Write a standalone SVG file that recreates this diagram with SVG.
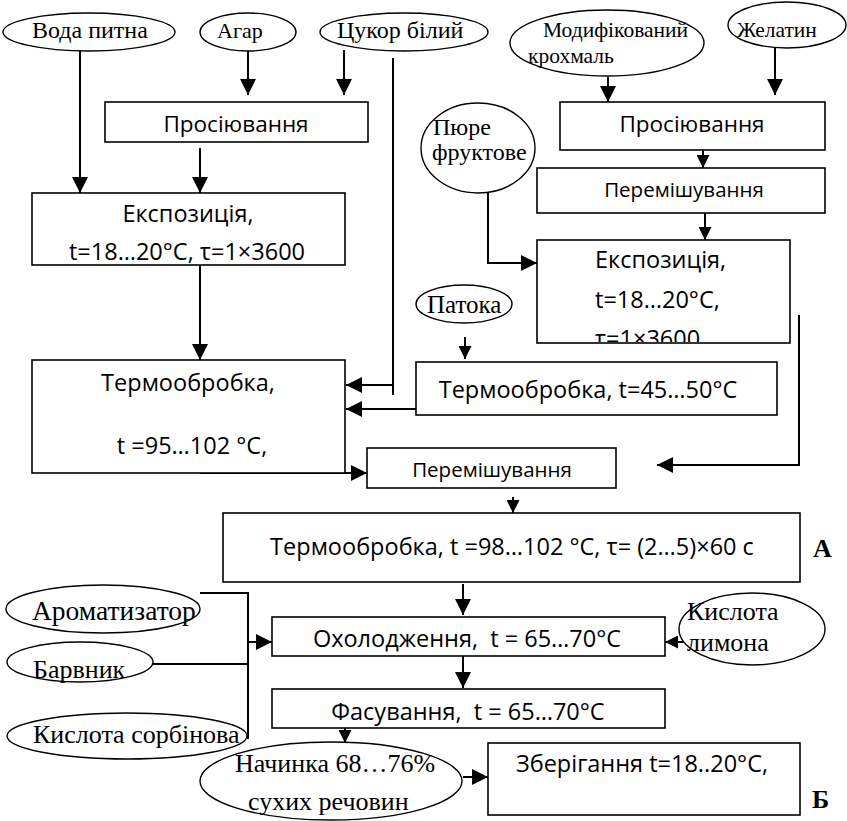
<svg xmlns="http://www.w3.org/2000/svg" width="847" height="821" viewBox="0 0 847 821">
<style>
.box{fill:#fff;stroke:#000;stroke-width:1.6}
.ell{fill:#fff;stroke:#000;stroke-width:1.4}
.s{font-family:"Open Sans","Liberation Sans",sans-serif;font-size:23.5px;fill:#000;white-space:pre}
.p{font-size:20.5px}
.m{text-anchor:middle}
.r{font-family:"Liberation Serif","Times New Roman",serif;font-size:26px;fill:#000}
.b{font-family:"Liberation Serif","Times New Roman",serif;font-size:26px;font-weight:bold;fill:#000}
#connectors path{fill:none;stroke:#000;stroke-width:2}
.big{marker-end:url(#ab)}
.sm{marker-end:url(#as)}
</style>
<defs>
<marker id="ab" viewBox="0 0 10 10" refX="10" refY="5" markerUnits="userSpaceOnUse" markerWidth="17" markerHeight="16" orient="auto"><path d="M0,0 L10,5 L0,10 z" fill="#000"/></marker>
<marker id="as" viewBox="0 0 10 10" refX="10" refY="5" markerUnits="userSpaceOnUse" markerWidth="13" markerHeight="13" orient="auto"><path d="M0,0 L10,5 L0,10 z" fill="#000"/></marker>
<clipPath id="clipExpR"><rect x="537" y="240" width="253" height="102"/></clipPath>
</defs>
<rect width="847" height="821" fill="#fff"/>

<g id="connectors">
<path class="big" d="M80,50 V193"/>
<path class="big" d="M248,50 V95"/>
<path class="big" d="M344,50 V95"/>
<path class="big" d="M200,148 V193"/>
<path class="big" d="M200,265 V360"/>
<path d="M393,58 V395"/>
<path class="big" d="M393,385 H346"/>
<path class="big" d="M416,409 H346"/>
<path class="sm" d="M465,337 V359"/>
<path class="big" d="M608,77 V102"/>
<path class="big" d="M775,48 V95"/>
<path class="sm" d="M703,148 V168"/>
<path class="sm" d="M705,213 V240"/>
<path class="big" d="M488,193 V263 H537"/>
<path class="big" d="M799,315 V465 H657"/>
<path class="big" d="M200,473 H367"/>
<path class="sm" d="M513,497 V513"/>
<path class="big" d="M463,584 V615"/>
<path class="big" d="M463,656 V688"/>
<path class="sm" d="M683,642 H665"/>
<path d="M200,593 H248 V739"/>
<path d="M153,664 H248"/>
<path class="big" d="M248,642 H272"/>
<path class="sm" d="M345,728 V743"/>
<path class="big" d="M463,777 H488"/>
</g>

<g id="voda"><ellipse class="ell" cx="89" cy="32" rx="86" ry="19"/><text class="r" x="32" y="38" style="font-size:24px">Вода питна</text></g>
<g id="agar"><ellipse class="ell" cx="248" cy="32" rx="48" ry="19"/><text class="r" x="217" y="38" style="font-size:22px">Агар</text></g>
<g id="tsukor"><ellipse class="ell" cx="404" cy="32" rx="84" ry="19"/><text class="r" x="337" y="38" style="font-size:24px">Цукор білий</text></g>
<g id="krokhmal"><ellipse class="ell" cx="607" cy="43" rx="97" ry="33"/><text class="r" x="543" y="37" style="font-size:21.5px">Модифікований</text><text class="r" x="528" y="63" style="font-size:21.5px">крохмаль</text></g>
<g id="zhelatyn"><ellipse class="ell" cx="787" cy="25" rx="59" ry="23"/><text class="r" x="737" y="37" style="font-size:21.5px">Желатин</text></g>

<g id="prosiyuvannia1"><rect class="box" x="105" y="102" width="263" height="40"/><text class="s m" x="236" y="132" style="font-size:22.5px">Просіювання</text></g>
<g id="prosiyuvannia2"><rect class="box" x="560" y="102" width="265" height="48"/><text class="s m" x="692" y="132" style="font-size:22.5px">Просіювання</text></g>
<g id="piure"><ellipse class="ell" cx="478" cy="148" rx="57" ry="45"/><text class="r" x="433" y="135" style="font-size:24px">Пюре</text><text class="r" x="432" y="160" style="font-size:24px">фруктове</text></g>
<g id="peremishuvannia1"><rect class="box" x="537" y="168" width="288" height="45"/><text class="s p m" x="684" y="197">Перемішування</text></g>

<g id="ekspozytsiia1"><rect class="box" x="32" y="193" width="313" height="72"/><text class="s m" x="188" y="222">Експозиція,</text><text class="s m" x="187" y="260">t=18…20°C, τ=1×3600</text></g>
<g id="ekspozytsiia2"><rect class="box" x="537" y="240" width="253" height="103"/><g clip-path="url(#clipExpR)"><text class="s" x="595" y="268">Експозиція,</text><text class="s" x="595" y="308">t=18…20°C,</text><text class="s" x="595" y="347">τ=1×3600</text></g></g>

<g id="patoka"><ellipse class="ell" cx="464" cy="304" rx="48" ry="19"/><text class="r" x="427" y="313" style="font-size:25px">Патока</text></g>
<g id="termo1"><rect class="box" x="32" y="360" width="313" height="113"/><text class="s m" x="188" y="391">Термообробка,</text><text class="s m" x="192" y="454">t =95…102 °C,</text></g>
<g id="termo2"><rect class="box" x="416" y="362" width="361" height="53"/><text class="s m" x="588" y="398">Термообробка, t=45…50°C</text></g>
<g id="peremishuvannia2"><rect class="box" x="367" y="448" width="249" height="40"/><text class="s p m" x="492" y="477">Перемішування</text></g>
<g id="termo3"><rect class="box" x="223" y="513" width="577" height="69"/><text class="s m" x="512" y="555">Термообробка, t =98…102 °C, τ= (2…5)×60 с</text></g>
<g id="labelA"><text class="b" x="813" y="557">А</text></g>

<g id="aromatyzator"><ellipse class="ell" cx="103" cy="609" rx="97" ry="24"/><text class="r" x="32" y="620" style="font-size:27.5px">Ароматизатор</text></g>
<g id="okholodzhennia"><rect class="box" x="272" y="617" width="393" height="39"/><text class="s m" x="467" y="647">Охолодження,  t = 65…70°C</text></g>
<g id="kyslota_lymona"><ellipse class="ell" cx="752" cy="629" rx="73" ry="36"/><text class="r" x="687" y="620">Кислота</text><text class="r" x="687" y="651">лимона</text></g>
<g id="barvnyk"><ellipse class="ell" cx="80" cy="662" rx="73" ry="20"/><text class="r" x="33" y="678">Барвник</text></g>
<g id="fasuvannia"><rect class="box" x="272" y="689" width="393" height="39"/><text class="s m" x="468" y="720">Фасування,  t = 65…70°C</text></g>
<g id="kyslota_sorbinova"><ellipse class="ell" cx="127" cy="736" rx="120" ry="23"/><text class="r" x="33" y="743">Кислота сорбінова</text></g>
<g id="nachynka"><ellipse class="ell" cx="331" cy="781" rx="131" ry="39"/><text class="r" x="235" y="772">Начинка 68…76%</text><text class="r" x="248" y="810">сухих речовин</text></g>
<g id="zberigannia"><rect class="box" x="488" y="743" width="312" height="72"/><text class="s m" x="642" y="772">Зберігання t=18..20°C,</text></g>
<g id="labelB"><text class="b" x="812" y="808">Б</text></g>
</svg>
